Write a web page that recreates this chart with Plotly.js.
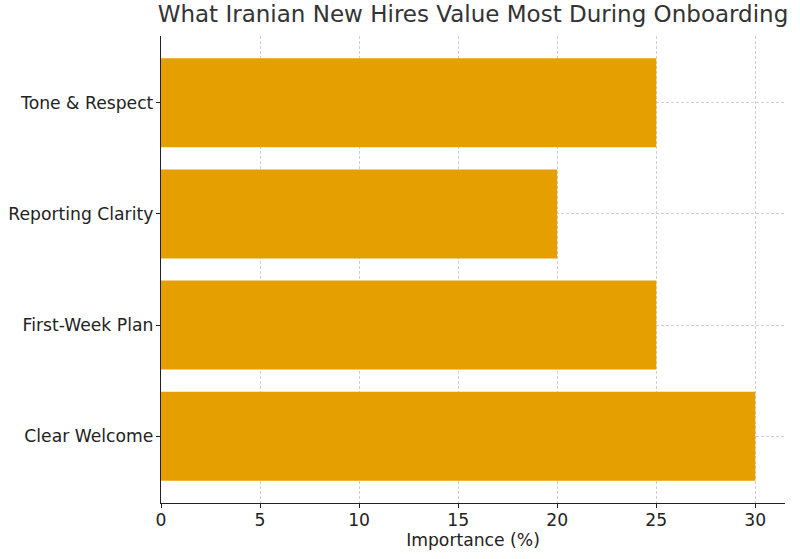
<!DOCTYPE html>
<html>
<head>
<meta charset="utf-8">
<script src="https://cdn.plot.ly/plotly-3.0.1.min.js"></script>
<style>
  html, body { margin: 0; padding: 0; background: #fff; }
  #chart { width: 800px; height: 559px; }
</style>
</head>
<body>
<div id="chart"></div>
<script>
// Data
const categories = ['Clear Welcome', 'First-Week Plan', 'Reporting Clarity', 'Tone & Respect'];
const importance = [30, 25, 20, 25];
const xTicks = [0, 5, 10, 15, 20, 25, 30];

const barColor = '#E69F00';
const gridStyle = { showgrid: true, gridcolor: '#cfcfcf', griddash: '3px,2px', gridwidth: 1 };

Plotly.newPlot('chart', [
  {
    type: 'bar',
    orientation: 'h',
    x: importance,
    y: categories,
    width: 0.8,
    marker: { color: barColor, line: { width: 0 } },
    hoverinfo: 'x+y'
  }
], {
  width: 800,
  height: 559,
  margin: { l: 161, r: 15, t: 36, b: 56 },
  paper_bgcolor: '#fff',
  plot_bgcolor: '#fff',
  font: { family: 'DejaVu Sans, sans-serif', size: 17.2, color: '#222' },
  title: {
    text: 'What Iranian New Hires Value Most During Onboarding',
    font: { size: 23, color: '#333' },
    x: 0.5, xref: 'paper', xanchor: 'center',
    y: 0.99, yref: 'container', yanchor: 'top'
  },
  showlegend: false,
  bargap: 0.2,
  xaxis: Object.assign({
    range: [0, 31.5],
    tickvals: xTicks,
    ticktext: xTicks.map(String),
    ticks: 'outside', ticklen: 4, tickcolor: '#222',
    ticklabelstandoff: -3,
    showline: true, linecolor: '#222', linewidth: 1.2,
    zeroline: false,
    title: { text: 'Importance (%)', font: { size: 17.2 }, standoff: 2 }
  }, gridStyle),
  yaxis: Object.assign({
    type: 'category',
    range: [-0.6, 3.6],
    ticks: 'outside', ticklen: 4, tickcolor: '#222',
    ticklabelstandoff: -1,
    showline: true, linecolor: '#222', linewidth: 1.2,
    zeroline: false,
    automargin: false
  }, gridStyle)
}, { displayModeBar: false, staticPlot: true });
</script>
</body>
</html>
